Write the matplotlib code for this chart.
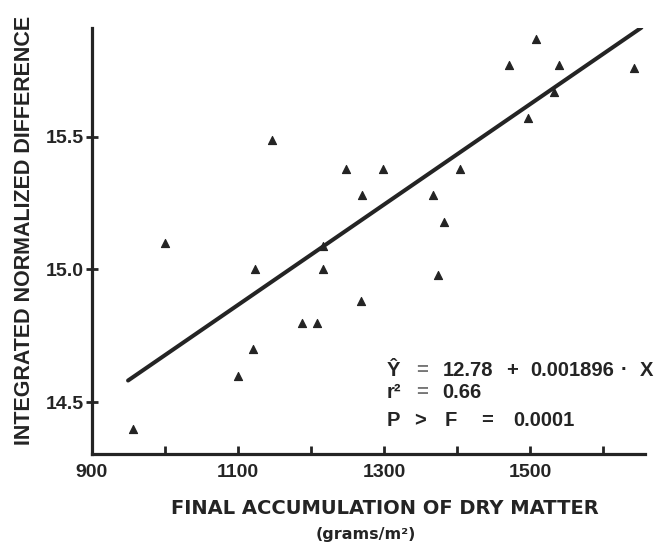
import matplotlib
matplotlib.use("Agg")
import matplotlib.pyplot as plt
import numpy as np

# Final dry matter (g/m^2) and integrated normalized difference per plot
dry_matter = [957, 1000, 1147, 1123, 1121, 1100, 1188, 1209, 1217, 1217,
              1248, 1298, 1270, 1367, 1382, 1404, 1374, 1269,
              1471, 1508, 1539, 1532, 1497, 1642]
ind_values = [14.40, 15.10, 15.49, 15.00, 14.70, 14.60, 14.80, 14.80, 15.00, 15.09,
              15.38, 15.38, 15.28, 15.28, 15.18, 15.38, 14.98, 14.88,
              15.77, 15.87, 15.77, 15.67, 15.57, 15.76]

# Fitted regression
intercept = 12.78
slope = 0.001896
r_squared = "0.66"
p_value = "0.0001"
fit_range = [950, 1652]

x_ticks = [900, 1100, 1300, 1500]
x_minor = [1000, 1200, 1400, 1600]
y_ticks = [14.5, 15.0, 15.5]
y_tick_labels = ["14.5", "15.0", "15.5"]

W, H = 659, 542
ink = "#242424"


def fx(x):
    return x / W


def fy(y):
    return 1 - y / H


fig = plt.figure(figsize=(W / 100, H / 100), dpi=100)
ax = fig.add_axes([fx(91.5), fy(454), (645 - 91.5) / W, (454 - 28) / H])

ax.scatter(dry_matter, ind_values, marker="^", s=34, color=ink,
           edgecolors=ink, linewidths=0.8, zorder=3)

xf = np.array(fit_range, dtype=float)
ax.plot(xf, intercept + slope * xf, color=ink, lw=2.9, solid_capstyle="round", zorder=2)

ax.set_xlim(900, 1657)
ax.set_ylim(14.304, 15.911)

for side in ("top", "right"):
    ax.spines[side].set_visible(False)
for side in ("left", "bottom"):
    ax.spines[side].set_linewidth(2.3)
    ax.spines[side].set_color(ink)

tick_font = dict(family="Liberation Sans", weight="bold", size=14)
ax.set_xticks(x_ticks)
ax.set_xticks(x_minor, minor=True)
ax.set_xticklabels([str(t) for t in x_ticks], **tick_font, color=ink)
ax.set_yticks(y_ticks)
ax.set_yticklabels(y_tick_labels, **tick_font, color=ink)
ax.tick_params(axis="x", which="both", direction="in", length=6, width=2, color=ink, pad=7)
ax.tick_params(axis="y", direction="inout", length=9, width=2, color=ink, pad=1)

# Axis titles
fig.text(fx(25), fy(230), "INTEGRATED NORMALIZED DIFFERENCE", rotation=90,
         ha="center", va="center", family="Liberation Sans", weight="bold",
         size=15.5, color=ink)
fig.text(fx(385), fy(508), "FINAL ACCUMULATION OF DRY MATTER", ha="center", va="center",
         family="DejaVu Sans", weight="bold", size=14, color=ink)
fig.text(fx(366), fy(535), "(grams/m²)", ha="center", va="center",
         family="DejaVu Sans", weight="bold", size=11.5, color=ink)

# Regression statistics
stat_font = dict(family="Liberation Sans", weight="bold", size=14.5, va="center", ha="left")
rows = [
    (370, [(387, "Ŷ", ink), (416, "=", "#777777"), (443, f"{intercept:.2f}", ink),
           (506, "+", ink), (530, f"{slope:.6f}", ink), (621, "·", ink), (640, "X", ink)]),
    (393, [(387, "r²", ink), (416, "=", "#777777"), (442, r_squared, ink)]),
    (421, [(387, "P", ink), (414, ">", ink), (445, "F", ink), (481, "=", ink),
           (513, p_value, ink)]),
]
for y, pieces in rows:
    for x, s, c in pieces:
        fig.text(fx(x), fy(y), s, color=c, **stat_font)

fig.savefig("out.png", dpi=100, facecolor="white")
